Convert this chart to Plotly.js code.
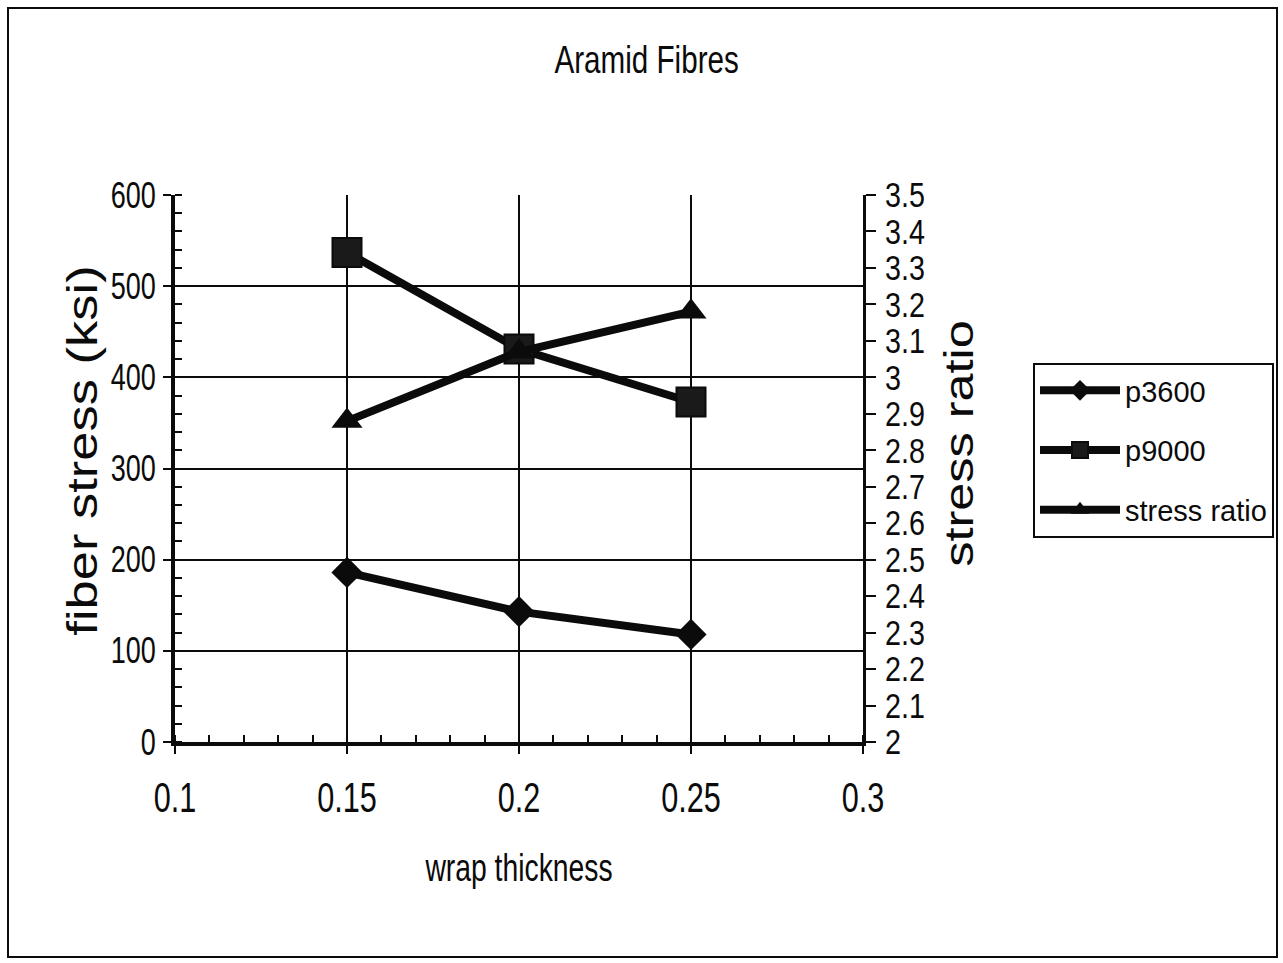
<!DOCTYPE html>
<html>
<head>
<meta charset="utf-8">
<script src="https://cdn.plot.ly/plotly-3.0.1.min.js"></script>
<style>
  html, body { margin: 0; padding: 0; background: #ffffff; }
  #chart { width: 1283px; height: 963px; }
</style>
</head>
<body>
<div id="chart"></div>
<script>
// Wrap thickness values on the x axis
const wrapThickness = [0.15, 0.2, 0.25];

// Fiber stress (ksi) at two pressures, left axis
const p3600 = [186, 143, 118];
const p9000 = [537, 431, 373];

// Ratio of the two stresses, right axis
const stressRatio = [2.88, 3.07, 3.18];

const seriesNames = ['p3600', 'p9000', 'stress ratio'];

const sans = "'Liberation Sans', Arial, sans-serif";
const ink = '#0b0b0b';

const lineStyle = { color: ink, width: 8 };

const traces = [
  {
    x: wrapThickness, y: p3600, name: seriesNames[0], type: 'scatter', mode: 'lines+markers',
    line: lineStyle, marker: { symbol: 'diamond', size: 24, color: ink }, legendgroup: 'a'
  },
  {
    x: wrapThickness, y: p9000, name: seriesNames[1], type: 'scatter', mode: 'lines+markers',
    line: lineStyle, marker: { symbol: 'square', size: 29, color: '#1a1a1a', line: { color: ink, width: 2 } }, legendgroup: 'b'
  },
  {
    x: wrapThickness, y: stressRatio, name: seriesNames[2], type: 'scatter', mode: 'lines+markers',
    yaxis: 'y2', line: lineStyle, marker: { symbol: 'triangle-up', size: 27, color: ink }, legendgroup: 'c'
  }
];

// Plot area spans x 175..863 and y 195..742 in page pixels
const plotL = 175, plotR = 863, plotT = 195, plotB = 742;
const pw = plotR - plotL, ph = plotB - plotT;
const px = v => (v - plotL) / pw;
const py = v => (plotB - v) / ph;

const layout = {
  width: 1283,
  height: 963,
  paper_bgcolor: '#ffffff',
  plot_bgcolor: '#ffffff',
  margin: { l: plotL, r: 1283 - plotR, t: plotT, b: 963 - plotB, pad: 0, autoexpand: false },
  font: { family: sans, color: ink, size: 31 },
  title: {
    text: 'Aramid Fibres',
    font: { family: sans, size: 39, color: ink },
    x: 0.504, xref: 'container', xanchor: 'center',
    y: 1 - 59 / 963, yref: 'container', yanchor: 'middle'
  },
  xaxis: {
    range: [0.1, 0.3],
    dtick: 0.05,
    tick0: 0.1,
    showline: true, linecolor: ink, linewidth: 4,
    showgrid: true, gridcolor: ink, gridwidth: 2,
    zeroline: false,
    ticks: 'outside', ticklen: 8, tickwidth: 2, tickcolor: ink,
    ticklabelstandoff: 8,
    tickfont: { family: sans, size: 42, color: ink },
    minor: { dtick: 0.01, ticks: 'inside', ticklen: 7, tickwidth: 2, tickcolor: ink, showgrid: false },
    title: { text: 'wrap thickness', font: { family: sans, size: 38, color: ink }, standoff: 35 },
    automargin: false
  },
  yaxis: {
    range: [0, 600],
    dtick: 100,
    showline: true, linecolor: ink, linewidth: 4,
    showgrid: true, gridcolor: ink, gridwidth: 2,
    zeroline: false,
    ticks: 'outside', ticklen: 8, tickwidth: 2, tickcolor: ink,
    ticklabelstandoff: 0,
    tickfont: { family: sans, size: 36, color: ink },
    minor: { dtick: 20, ticks: 'inside', ticklen: 7, tickwidth: 2, tickcolor: ink, showgrid: false },
    title: { text: 'fiber stress (ksi)', font: { family: sans, size: 42, color: ink }, standoff: 0 },
    automargin: false
  },
  yaxis2: {
    overlaying: 'y',
    side: 'right',
    range: [2, 3.5],
    dtick: 0.1,
    tick0: 2,
    showline: true, linecolor: ink, linewidth: 3,
    showgrid: false,
    zeroline: false,
    ticks: 'outside', ticklen: 10, tickwidth: 2, tickcolor: ink,
    ticklabelstandoff: 2,
    tickfont: { family: sans, size: 35, color: ink },
    title: { text: 'stress ratio', font: { family: sans, size: 40, color: ink }, standoff: 6 },
    automargin: false
  },
  showlegend: true,
  legend: {
    x: px(1033), y: py(363), xanchor: 'left', yanchor: 'top',
    xref: 'paper', yref: 'paper',
    bgcolor: '#ffffff', bordercolor: ink, borderwidth: 2,
    font: { family: sans, size: 29, color: ink },
    traceorder: 'grouped', tracegroupgap: 19,
    itemwidth: 80
  },
  shapes: [
    {
      type: 'rect', xref: 'paper', yref: 'paper',
      x0: px(8), x1: px(1277), y0: py(957), y1: py(8),
      line: { color: ink, width: 2 }, fillcolor: 'rgba(0,0,0,0)', layer: 'below'
    }
  ]
};

// The lettering of this chart is tall and narrow along the horizontal
// texts and drawn out along the rotated axis titles; scale each text
// run along its own direction with SVG textLength.
function scaleText(selector, factor) {
  document.querySelectorAll('#chart ' + selector).forEach(function (t) {
    const w = t.getComputedTextLength();
    if (w > 0) {
      t.setAttribute('textLength', (w * factor).toFixed(1));
      t.setAttribute('lengthAdjust', 'spacingAndGlyphs');
    }
  });
}

// Nudge a text element after the tick labels were narrowed.
function shiftText(selector, dx, dy) {
  document.querySelectorAll('#chart ' + selector).forEach(function (t) {
    const tr = t.getAttribute('transform') || '';
    t.setAttribute('transform', 'translate(' + dx + ',' + dy + ') ' + tr);
  });
}

Plotly.newPlot('chart', traces, layout, { displayModeBar: false, staticPlot: true }).then(function () {
  scaleText('.gtitle', 0.76);
  scaleText('.xtick text', 0.73);
  scaleText('.ytick text', 0.75);
  scaleText('.y2tick text', 0.82);
  scaleText('.xtitle', 0.745);
  scaleText('.ytitle', 1.25);
  scaleText('.y2title', 1.26);
  shiftText('.ytitle', 14, -18);
  shiftText('.y2title', 3, -25);
});
</script>
</body>
</html>
